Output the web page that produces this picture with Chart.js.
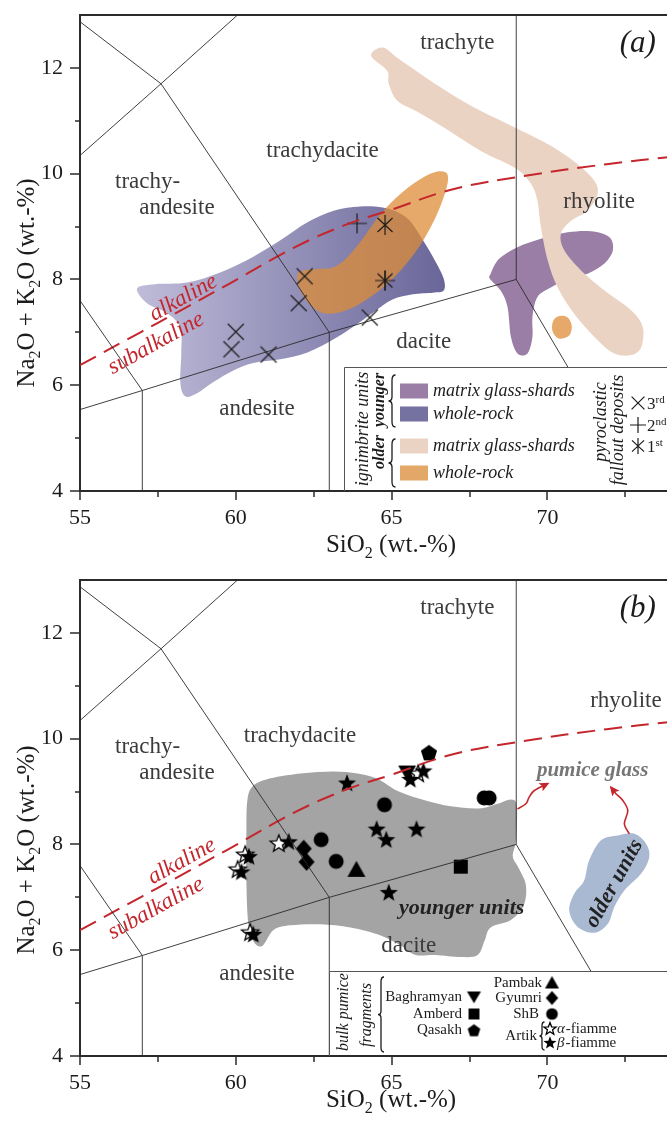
<!DOCTYPE html>
<html>
<head>
<meta charset="utf-8">
<script src="https://cdn.jsdelivr.net/npm/chart.js@4.4.1/dist/chart.umd.min.js"></script>
<style>
  html, body { margin: 0; padding: 0; background: #fff; overflow: hidden; width: 667px; height: 1125px; }
  #panelA { position: absolute; left: 0; top: 0; }
  #panelB { position: absolute; left: 0; top: 565px; }
</style>
</head>
<body>
<canvas id="panelA" width="677" height="565"></canvas>
<canvas id="panelB" width="677" height="560"></canvas>
<script>
// ---- axes ----
const xRange = [55, 73.87];
const yRange = [4, 13];
const xMajorTicks = [55, 60, 65, 70];
const xMinorTicks = [57.5, 62.5, 67.5, 72.5];
const yMajorTicks = [4, 6, 8, 10, 12];
const yMinorTicks = [5, 7, 9, 11];

// ---- TAS field boundaries (SiO2, Na2O+K2O) ----
const tasBoundaries = [
  [[52, 5], [57, 5.9], [63, 7], [69, 8]],
  [[57, 0], [57, 5.9]],
  [[63, 0], [63, 7]],
  [[57, 5.9], [53, 9.3]],
  [[63, 7], [57.6, 11.7], [52.5, 14]],
  [[53, 9.3], [57.6, 11.7], [61, 13.5]],
  [[69, 8], [69, 14]],
  [[69, 8], [77, 0]]
];
// alkaline / subalkaline divide
const alkalineDivide = [[55, 6.38], [57, 7.02], [58, 7.34], [59.7, 7.89], [61.9, 8.61], [63.6, 9.05],
  [64.9, 9.3], [67, 9.71], [69.3, 9.96], [71.9, 10.18], [74, 10.32]];

// ---- (a) ignimbrite compositional fields ----
const fieldYoungerWholeRock = [[56.83, 7.83], [57.41, 7.91], [58.44, 7.94], [59.5, 8.13], [60.56, 8.43],
  [61.43, 8.74], [62.3, 9.08], [63.14, 9.3], [64.0, 9.38], [64.87, 9.34], [65.51, 9.15], [65.93, 8.81],
  [66.35, 8.4], [66.67, 8.02], [66.67, 7.79], [66.32, 7.75], [65.68, 7.72], [65.03, 7.62], [64.42, 7.38],
  [63.78, 7.11], [63.14, 6.87], [62.3, 6.62], [61.43, 6.49], [60.56, 6.42], [59.92, 6.28], [59.28, 6.06],
  [58.76, 5.85], [58.38, 5.79], [58.22, 6.04], [58.25, 6.6], [58.22, 7.09], [57.8, 7.36], [57.15, 7.55]];
const fieldYoungerMatrix = [[68.18, 8.11], [68.45, 8.39], [69.04, 8.61], [69.79, 8.77], [70.65, 8.89],
  [71.4, 8.91], [71.99, 8.8], [72.1, 8.55], [71.83, 8.3], [71.29, 8.11], [70.65, 8.01], [70.11, 7.85],
  [69.68, 7.67], [69.52, 7.29], [69.52, 6.91], [69.36, 6.6], [69.04, 6.6], [68.83, 6.91], [68.72, 7.48],
  [68.5, 7.79], [68.16, 8.01]];
const fieldOlderMatrix = [[64.42, 12.32], [64.75, 12.38], [65.18, 12.19], [65.72, 11.97], [66.58, 11.63],
  [67.65, 11.25], [68.72, 10.94], [70.01, 10.56], [70.97, 10.18], [71.5, 9.87], [71.61, 9.62], [71.29, 9.3],
  [70.76, 9.11], [70.43, 8.86], [70.54, 8.55], [71.08, 8.17], [71.83, 7.79], [72.68, 7.42], [73.06, 7.1],
  [73.01, 6.72], [72.68, 6.57], [72.15, 6.6], [71.61, 6.85], [70.86, 7.35], [70.33, 7.85], [70.01, 8.36],
  [69.79, 8.99], [69.68, 9.49], [69.47, 9.81], [68.99, 10.1], [67.86, 10.43], [66.79, 10.83], [65.83, 11.17],
  [65.18, 11.38], [64.91, 11.7], [64.86, 11.94], [64.38, 12.19]];
const fieldOlderWholeRock = [[61.97, 8.08], [62.18, 8.17], [62.72, 8.2], [63.14, 8.23], [63.58, 8.42],
  [64.11, 8.8], [64.65, 9.24], [65.29, 9.62], [65.93, 9.9], [66.47, 10.04], [66.79, 9.99], [66.74, 9.68],
  [66.36, 9.11], [65.72, 8.48], [64.86, 7.92], [63.79, 7.48], [62.93, 7.35], [62.4, 7.51], [62.07, 7.79]];
const fieldOlderWholeRockSmall = [[70.17, 7.19], [70.33, 7.3], [70.63, 7.29], [70.78, 7.13], [70.7, 6.94],
  [70.38, 6.88], [70.17, 7.01]];

// ---- (a) pyroclastic fallout deposits ----
const fallout3rd = [[59.86, 6.68], [60.0, 7.01], [61.05, 6.58], [62.02, 7.55], [62.21, 8.06], [64.3, 7.28]];
const fallout2nd = [[63.89, 9.06], [64.79, 7.98]];
const fallout1st = [[64.79, 9.03], [64.79, 7.98]];

// ---- (b) fields ----
const fieldYoungerUnits = [[60.37, 8.83], [60.53, 9.09], [60.98, 9.23], [62.07, 9.34], [63.13, 9.38],
  [63.91, 9.34], [64.58, 9.23], [65.23, 9.0], [66.09, 8.83], [66.9, 8.72], [67.8, 8.68], [68.41, 8.77],
  [68.83, 8.85], [69.02, 8.72], [68.99, 8.08], [68.89, 7.77], [69.08, 7.55], [69.31, 7.23], [69.24, 6.85],
  [68.83, 6.57], [68.18, 6.43], [67.99, 6.19], [67.76, 5.91], [67.22, 5.87], [66.41, 5.91], [65.77, 5.91],
  [65.29, 6.09], [64.65, 6.28], [63.68, 6.43], [62.72, 6.49], [61.75, 6.47], [61.21, 6.38], [60.85, 6.08],
  [60.56, 6.17], [60.4, 6.51], [60.34, 7.32], [60.34, 8.26]];
const fieldOlderUnits = [[72.26, 8.17], [72.79, 8.2], [73.17, 8.01], [73.27, 7.76], [73.01, 7.45],
  [72.47, 7.13], [72.15, 6.82], [71.94, 6.5], [71.51, 6.33], [70.97, 6.44], [70.7, 6.75], [70.86, 7.07],
  [71.18, 7.32], [71.34, 7.7], [71.72, 8.08]];

// ---- (b) bulk pumice fragments ----
const baghramyan = [[65.5, 9.36]];
const amberd = [[67.22, 7.58]];
const qasakh = [[66.2, 9.74]];
const pambak = [[63.87, 7.52]];
const gyumri = [[62.18, 7.92], [62.27, 7.67]];
const shb = [[62.74, 8.09], [63.22, 7.68], [64.77, 8.75], [67.97, 8.88], [68.13, 8.88]];
const artikAlpha = [[60.3, 7.8], [60.06, 7.52], [61.38, 8.01], [60.46, 6.33], [65.85, 9.33]];
const artikBeta = [[60.42, 7.76], [60.18, 7.47], [61.7, 8.04], [60.56, 6.29], [63.57, 9.15], [64.52, 8.28],
  [64.83, 8.08], [65.8, 8.28], [64.91, 7.08], [65.6, 9.22], [66.02, 9.38]];

// arrows from the fields to the "pumice glass" note
const arrowYounger = [[69.04, 8.67], [69.31, 8.77], [69.41, 8.89], [69.58, 9.02], [70.01, 9.15]];
const arrowOlder = [[72.63, 8.2], [72.47, 8.39], [72.58, 8.64], [72.42, 8.83], [72.2, 8.96], [72.04, 9.08]];

const SERIF = '"Liberation Serif", "Times New Roman", serif';
const RED = '#c4262d';
const LABEL = '#3b3b3b';
const INK = '#1c1c1c';
const C_YOUNG_MATRIX = '#9a7ea5';
const C_YOUNG_WHOLE = '#7571a0';
const C_OLD_MATRIX = '#ebd3c3';
const C_OLD_WHOLE = 'rgba(222,140,55,0.75)';
const C_OLD_WHOLE_KEY = '#e3a867';
const C_GREY = '#a4a4a4';
const C_BLUE = '#a9b9d1';

// ---------- marker glyphs ----------
function makeGlyph(size, draw) {
  const c = document.createElement('canvas');
  c.width = size; c.height = size;
  const g = c.getContext('2d');
  g.translate(size / 2, size / 2);
  draw(g);
  return c;
}
function starPath(g, R, r) {
  g.beginPath();
  for (let i = 0; i < 10; i++) {
    const a = -Math.PI / 2 + i * Math.PI / 5;
    const rr = i % 2 ? r : R;
    g.lineTo(rr * Math.cos(a), rr * Math.sin(a));
  }
  g.closePath();
}
function polyPath(g, pts) {
  g.beginPath();
  pts.forEach((p, i) => i ? g.lineTo(p[0], p[1]) : g.moveTo(p[0], p[1]));
  g.closePath();
}
const glyphDraw = {
  cross3: (g, s) => { g.strokeStyle = INK; g.lineWidth = 1.2; g.beginPath();
    g.moveTo(-8 * s, -8 * s); g.lineTo(8 * s, 8 * s); g.moveTo(8 * s, -8 * s); g.lineTo(-8 * s, 8 * s); g.stroke(); },
  plus2: (g, s) => { g.strokeStyle = INK; g.lineWidth = 1.2; g.beginPath();
    g.moveTo(-10 * s, 0); g.lineTo(10 * s, 0); g.moveTo(0, -10 * s); g.lineTo(0, 10 * s); g.stroke(); },
  aster1: (g, s) => { g.strokeStyle = INK; g.lineWidth = 1.2; g.beginPath();
    g.moveTo(-7.5 * s, -7 * s); g.lineTo(7.5 * s, 7 * s); g.moveTo(7.5 * s, -7 * s); g.lineTo(-7.5 * s, 7 * s);
    g.moveTo(0, -10 * s); g.lineTo(0, 10 * s); g.stroke(); },
  beta: (g, s) => { starPath(g, 9.5 * s, 4 * s); g.fillStyle = '#000'; g.fill(); },
  alpha: (g, s) => { starPath(g, 9 * s, 3.8 * s); g.fillStyle = '#fff'; g.fill();
    g.strokeStyle = '#000'; g.lineWidth = 1.3; g.stroke(); },
  circle: (g, s) => { g.beginPath(); g.arc(0, 0, 7.5 * s, 0, Math.PI * 2); g.fillStyle = '#000'; g.fill(); },
  square: (g, s) => { g.fillStyle = '#000'; g.fillRect(-7 * s, -7 * s, 14 * s, 14 * s); },
  diamond: (g, s) => { polyPath(g, [[0, -9 * s], [8 * s, 0], [0, 9 * s], [-8 * s, 0]]); g.fillStyle = '#000'; g.fill(); },
  triUp: (g, s) => { polyPath(g, [[0, -9 * s], [9 * s, 7 * s], [-9 * s, 7 * s]]); g.fillStyle = '#000'; g.fill(); },
  triDown: (g, s) => { polyPath(g, [[0, 8 * s], [9 * s, -7 * s], [-9 * s, -7 * s]]); g.fillStyle = '#000'; g.fill(); },
  pentagon: (g, s) => {
    const pts = [];
    for (let i = 0; i < 5; i++) {
      const a = -Math.PI / 2 + i * 2 * Math.PI / 5;
      pts.push([8.5 * s * Math.cos(a), 8.5 * s * Math.sin(a) + s]);
    }
    polyPath(g, pts); g.fillStyle = '#000'; g.fill();
  }
};
function glyph(kind, s) { return makeGlyph(Math.ceil(24 * s), g => glyphDraw[kind](g, s)); }
const glyphs = {};
Object.keys(glyphDraw).forEach(k => { glyphs[k] = glyph(k, 1); });

// ---------- drawing helpers ----------
function px(chart, p) {
  return [chart.scales.x.getPixelForValue(p[0]), chart.scales.y.getPixelForValue(p[1])];
}
function smoothClosed(ctx, pts) {
  const n = pts.length;
  ctx.beginPath();
  ctx.moveTo(pts[0][0], pts[0][1]);
  for (let i = 0; i < n; i++) {
    const p0 = pts[(i - 1 + n) % n], p1 = pts[i], p2 = pts[(i + 1) % n], p3 = pts[(i + 2) % n];
    ctx.bezierCurveTo(p1[0] + (p2[0] - p0[0]) / 6, p1[1] + (p2[1] - p0[1]) / 6,
      p2[0] - (p3[0] - p1[0]) / 6, p2[1] - (p3[1] - p1[1]) / 6, p2[0], p2[1]);
  }
  ctx.closePath();
}
function smoothOpen(ctx, pts) {
  const n = pts.length;
  ctx.beginPath();
  ctx.moveTo(pts[0][0], pts[0][1]);
  for (let i = 0; i < n - 1; i++) {
    const p0 = pts[Math.max(i - 1, 0)], p1 = pts[i], p2 = pts[i + 1], p3 = pts[Math.min(i + 2, n - 1)];
    ctx.bezierCurveTo(p1[0] + (p2[0] - p0[0]) / 6, p1[1] + (p2[1] - p0[1]) / 6,
      p2[0] - (p3[0] - p1[0]) / 6, p2[1] - (p3[1] - p1[1]) / 6, p2[0], p2[1]);
  }
}
function text(ctx, t, x, y, o) {
  ctx.save();
  ctx.translate(x, y);
  if (o.rot) ctx.rotate(o.rot * Math.PI / 180);
  ctx.font = o.font;
  ctx.fillStyle = o.color || INK;
  ctx.textAlign = o.align || 'center';
  ctx.textBaseline = o.baseline || 'middle';
  ctx.fillText(t, 0, 0);
  ctx.restore();
}
// runs: [string, 0 normal | 1 subscript | 2 superscript]
function richText(ctx, runs, x, y, size, style, align, rot) {
  ctx.save();
  ctx.translate(x, y);
  if (rot) ctx.rotate(rot * Math.PI / 180);
  ctx.textBaseline = 'alphabetic';
  ctx.fillStyle = INK;
  const fontFor = m => `${style} ${m ? Math.round(size * 0.62) : size}px ${SERIF}`;
  let w = 0;
  runs.forEach(r => { ctx.font = fontFor(r[1]); w += ctx.measureText(r[0]).width; });
  let cx = align === 'left' ? 0 : -w / 2;
  runs.forEach(r => {
    ctx.font = fontFor(r[1]);
    const dy = r[1] === 1 ? size * 0.22 : r[1] === 2 ? -size * 0.38 : 0;
    ctx.fillText(r[0], cx, dy);
    cx += ctx.measureText(r[0]).width;
  });
  ctx.restore();
}
function brace(ctx, x, y1, y2, w) {
  const ym = (y1 + y2) / 2;
  ctx.save();
  ctx.strokeStyle = INK; ctx.lineWidth = 1.3;
  ctx.beginPath();
  ctx.moveTo(x + w, y1);
  ctx.quadraticCurveTo(x, y1, x, y1 + w * 1.5);
  ctx.lineTo(x, ym - w * 1.2);
  ctx.quadraticCurveTo(x, ym, x - w, ym);
  ctx.quadraticCurveTo(x, ym, x, ym + w * 1.2);
  ctx.lineTo(x, y2 - w * 1.5);
  ctx.quadraticCurveTo(x, y2, x + w, y2);
  ctx.stroke();
  ctx.restore();
}
function wavyArrow(chart, ctx, pts) {
  const p = pts.map(q => px(chart, q));
  ctx.save();
  ctx.strokeStyle = RED; ctx.fillStyle = RED; ctx.lineWidth = 1.6;
  smoothOpen(ctx, p);
  ctx.stroke();
  const a = p[p.length - 1], b = p[p.length - 2];
  const ang = Math.atan2(a[1] - b[1], a[0] - b[0]);
  ctx.translate(a[0], a[1]); ctx.rotate(ang);
  ctx.beginPath(); ctx.moveTo(2, 0); ctx.lineTo(-8, -4.5); ctx.lineTo(-6, 0); ctx.lineTo(-8, 4.5); ctx.closePath();
  ctx.fill();
  ctx.restore();
}

const xy = arr => arr.map(p => ({ x: p[0], y: p[1] }));

function baseDatasets() {
  const ds = tasBoundaries.map(line => ({
    data: xy(line), showLine: true, borderColor: '#2a2a2a', borderWidth: 0.9,
    pointRadius: 0, fill: false, tension: 0
  }));
  ds.push({
    data: xy(alkalineDivide), showLine: true, borderColor: RED, borderWidth: 2,
    borderDash: [18, 9], pointRadius: 0, fill: false, tension: 0.4
  });
  return ds;
}
function markerSet(arr, img) {
  return { data: xy(arr), pointStyle: img, pointRadius: 8, showLine: false };
}

function makePanel(canvas, spec) {
  const H = canvas.height;
  const plotBottom = 491;
  const overlay = {
    id: 'overlay',
    beforeDatasetsDraw(chart) {
      const ctx = chart.ctx, a = chart.chartArea;
      ctx.save();
      ctx.beginPath(); ctx.rect(a.left, a.top, a.right - a.left, a.bottom - a.top); ctx.clip();
      spec.fields.forEach(f => {
        const pts = f.pts.map(p => px(chart, p));
        smoothClosed(ctx, pts);
        if (f.gradient) {
          const xs = pts.map(p => p[0]);
          const gr = ctx.createLinearGradient(Math.min(...xs), 0, Math.max(...xs), 0);
          gr.addColorStop(0, f.gradient[0]); gr.addColorStop(1, f.gradient[1]);
          ctx.fillStyle = gr;
        } else ctx.fillStyle = f.color;
        ctx.fill();
      });
      ctx.restore();
    },
    afterDatasetsDraw(chart) {
      const ctx = chart.ctx;
      spec.labels.forEach(l => {
        const p = px(chart, [l.x, l.y]);
        text(ctx, l.t, p[0], p[1], l);
      });
      (spec.arrows || []).forEach(a => wavyArrow(chart, ctx, a));
      spec.legend(chart, ctx);
    },
    afterDraw(chart) {
      const ctx = chart.ctx, a = chart.chartArea;
      const xs = chart.scales.x, ys = chart.scales.y;
      ctx.save();
      ctx.strokeStyle = '#2b2b2b';
      ctx.lineWidth = 2;
      ctx.beginPath(); ctx.moveTo(a.left - 1, a.top); ctx.lineTo(chart.width, a.top); ctx.stroke();
      ctx.lineWidth = 1.5;
      ctx.beginPath();
      yMajorTicks.forEach(v => { const y = Math.round(ys.getPixelForValue(v)); ctx.moveTo(a.left - 10, y); ctx.lineTo(a.left, y); });
      yMinorTicks.forEach(v => { const y = Math.round(ys.getPixelForValue(v)); ctx.moveTo(a.left - 5, y); ctx.lineTo(a.left, y); });
      xMajorTicks.forEach(v => { const x = Math.round(xs.getPixelForValue(v)); ctx.moveTo(x, a.bottom); ctx.lineTo(x, a.bottom + 9); });
      xMinorTicks.forEach(v => { const x = Math.round(xs.getPixelForValue(v)); ctx.moveTo(x, a.bottom); ctx.lineTo(x, a.bottom + 6); });
      ctx.stroke();
      ctx.restore();
      richText(ctx, [['Na', 0], ['2', 1], ['O + K', 0], ['2', 1], ['O (wt.-%)', 0]], 34, spec.yTitleY, 25, '', 'center', -90);
      richText(ctx, [['SiO', 0], ['2', 1], [' (wt.-%)', 0]], 391, spec.xTitleY, 25, '', 'center', 0);
    }
  };
  return new Chart(canvas, {
    type: 'scatter',
    data: { datasets: baseDatasets().concat(spec.markers) },
    options: {
      responsive: false, animation: false, events: [],
      layout: { padding: { top: 15, right: 0, left: 0, bottom: 0 } },
      plugins: { legend: { display: false }, tooltip: { enabled: false } },
      scales: {
        x: {
          type: 'linear', min: xRange[0], max: xRange[1],
          grid: { display: false }, border: { display: true, color: '#2b2b2b', width: 2 },
          ticks: { font: { family: SERIF, size: 22 }, color: INK, padding: 6, maxRotation: 0 },
          afterBuildTicks: s => { s.ticks = xMajorTicks.map(v => ({ value: v })); },
          afterFit: s => { s.height = H - plotBottom; s.paddingLeft = 0; s.paddingRight = 0; }
        },
        y: {
          type: 'linear', min: yRange[0], max: yRange[1],
          grid: { display: false }, border: { display: true, color: '#2b2b2b', width: 2 },
          ticks: { font: { family: SERIF, size: 22 }, color: INK, padding: 9 },
          afterBuildTicks: s => { s.ticks = yMajorTicks.map(v => ({ value: v })); },
          afterFit: s => { s.width = 80; s.paddingTop = 0; s.paddingBottom = 0; }
        }
      }
    },
    plugins: [overlay]
  });
}

const reg = { font: `23px ${SERIF}`, color: LABEL };
const redIt = { font: `italic 23px ${SERIF}`, color: RED, rot: -29 };

// legend of panel (a)
function legendA(chart, ctx) {
  const a = chart.chartArea;
  const left = Math.round(chart.scales.x.getPixelForValue(63.47)) + 0.5;
  const top = Math.round(chart.scales.y.getPixelForValue(6.35)) + 0.5;
  ctx.save();
  ctx.fillStyle = '#fff';
  ctx.fillRect(left, top, chart.width - left, a.bottom - top - 1);
  ctx.strokeStyle = '#555'; ctx.lineWidth = 1;
  ctx.beginPath(); ctx.moveTo(left, a.bottom); ctx.lineTo(left, top); ctx.lineTo(chart.width, top); ctx.stroke();
  ctx.restore();
  text(ctx, 'ignimbrite units', 363, 429, { font: `italic 18px ${SERIF}`, rot: -90 });
  text(ctx, 'younger', 380, 400, { font: `italic bold 16px ${SERIF}`, rot: -90 });
  text(ctx, 'older', 380, 452, { font: `italic bold 16px ${SERIF}`, rot: -90 });
  brace(ctx, 392, 375, 427, 3.5);
  brace(ctx, 392, 439, 487, 3.5);
  const keys = [
    [C_YOUNG_MATRIX, 'matrix glass-shards', 391],
    [C_YOUNG_WHOLE, 'whole-rock', 414],
    [C_OLD_MATRIX, 'matrix glass-shards', 446],
    [C_OLD_WHOLE_KEY, 'whole-rock', 473]
  ];
  keys.forEach(k => {
    ctx.fillStyle = k[0];
    ctx.fillRect(400, k[2] - 7.5, 28, 15);
    text(ctx, k[1], 433, k[2], { font: `italic 18px ${SERIF}`, align: 'left' });
  });
  text(ctx, 'pyroclastic', 601, 422, { font: `italic 18px ${SERIF}`, rot: -90 });
  text(ctx, 'fallout deposits', 618, 430, { font: `italic 18px ${SERIF}`, rot: -90 });
  const small = { cross3: glyph('cross3', 0.8), plus2: glyph('plus2', 0.8), aster1: glyph('aster1', 0.8) };
  [['cross3', '3', 'rd', 403], ['plus2', '2', 'nd', 425], ['aster1', '1', 'st', 446]].forEach(r => {
    const img = small[r[0]];
    ctx.drawImage(img, 638 - img.width / 2, r[3] - img.height / 2);
    richText(ctx, [[r[1], 0], [r[2], 2]], 647, r[3] + 6, 17, '', 'left', 0);
  });
}

// legend of panel (b)
function legendB(chart, ctx) {
  const a = chart.chartArea;
  const left = Math.round(chart.scales.x.getPixelForValue(63.0)) + 0.5;
  const top = Math.round(chart.scales.y.getPixelForValue(5.61)) + 0.5;
  ctx.save();
  ctx.fillStyle = '#fff';
  ctx.fillRect(left, top, chart.width - left, a.bottom - top - 1);
  ctx.strokeStyle = '#555'; ctx.lineWidth = 1;
  ctx.beginPath(); ctx.moveTo(left, a.bottom); ctx.lineTo(left, top); ctx.lineTo(chart.width, top); ctx.stroke();
  ctx.restore();
  text(ctx, 'bulk pumice', 344, 447, { font: `italic 16px ${SERIF}`, rot: -90 });
  text(ctx, 'fragments', 367, 450, { font: `italic 16px ${SERIF}`, rot: -90 });
  brace(ctx, 381, 412, 487, 3);
  const f = `15px ${SERIF}`;
  const items = [
    ['Baghramyan', 462, 432, 'triDown', 474],
    ['Amberd', 462, 449, 'square', 474],
    ['Qasakh', 462, 465, 'pentagon', 474],
    ['Pambak', 542, 418, 'triUp', 552],
    ['Gyumri', 542, 433, 'diamond', 552],
    ['ShB', 539, 449, 'circle', 552]
  ];
  items.forEach(it => {
    text(ctx, it[0], it[1], it[2], { font: f, align: 'right' });
    const img = glyph(it[3], 0.78);
    ctx.drawImage(img, it[4] - img.width / 2, it[2] - img.height / 2);
  });
  text(ctx, 'Artik', 537, 471, { font: f, align: 'right' });
  brace(ctx, 542, 457, 485, 2.5);
  [['alpha', 'α', 464], ['beta', 'β', 478]].forEach(r => {
    const img = glyph(r[0], 0.72);
    ctx.drawImage(img, 550 - img.width / 2, r[2] - img.height / 2);
    text(ctx, r[1], 557, r[2], { font: `italic 15px ${SERIF}`, align: 'left' });
    ctx.font = `italic 15px ${SERIF}`;
    const w = ctx.measureText(r[1]).width;
    text(ctx, '-fiamme', 557 + w + 1, r[2], { font: f, align: 'left' });
  });
}

makePanel(document.getElementById('panelA'), {
  yTitleY: 283, xTitleY: 552,
  fields: [
    { pts: fieldYoungerWholeRock, gradient: ['#bfbcd9', '#6a6699'] },
    { pts: fieldYoungerMatrix, color: C_YOUNG_MATRIX },
    { pts: fieldOlderMatrix, color: C_OLD_MATRIX },
    { pts: fieldOlderWholeRock, color: C_OLD_WHOLE },
    { pts: fieldOlderWholeRockSmall, color: C_OLD_WHOLE }
  ],
  markers: [
    markerSet(fallout3rd, glyphs.cross3),
    markerSet(fallout2nd, glyphs.plus2),
    markerSet(fallout1st, glyphs.aster1)
  ],
  labels: [
    Object.assign({ t: 'trachyte', x: 67.11, y: 12.48 }, reg),
    Object.assign({ t: 'trachydacite', x: 62.78, y: 10.43 }, reg),
    Object.assign({ t: 'trachy-', x: 57.17, y: 9.84 }, reg),
    Object.assign({ t: 'andesite', x: 58.11, y: 9.35 }, reg),
    Object.assign({ t: 'rhyolite', x: 71.66, y: 9.46 }, reg),
    Object.assign({ t: 'andesite', x: 60.68, y: 5.56 }, reg),
    Object.assign({ t: 'dacite', x: 66.03, y: 6.82 }, reg),
    Object.assign({ t: 'alkaline', x: 58.32, y: 7.65 }, redIt),
    Object.assign({ t: 'subalkaline', x: 57.44, y: 6.79 }, redIt),
    { t: '(a)', x: 72.9, y: 12.45, font: `italic 31px ${SERIF}`, color: INK }
  ],
  legend: legendA
});

makePanel(document.getElementById('panelB'), {
  yTitleY: 285, xTitleY: 542,
  fields: [
    { pts: fieldYoungerUnits, color: C_GREY },
    { pts: fieldOlderUnits, color: C_BLUE }
  ],
  markers: [
    markerSet(gyumri, glyphs.diamond),
    markerSet(shb, glyphs.circle),
    markerSet(pambak, glyphs.triUp),
    markerSet(amberd, glyphs.square),
    markerSet(qasakh, glyphs.pentagon),
    markerSet(baghramyan, glyphs.triDown),
    markerSet(artikBeta, glyphs.beta),
    markerSet(artikAlpha, glyphs.alpha)
  ],
  labels: [
    Object.assign({ t: 'trachyte', x: 67.11, y: 12.48 }, reg),
    Object.assign({ t: 'trachydacite', x: 62.06, y: 10.06 }, reg),
    Object.assign({ t: 'trachy-', x: 57.17, y: 9.84 }, reg),
    Object.assign({ t: 'andesite', x: 58.11, y: 9.36 }, reg),
    Object.assign({ t: 'rhyolite', x: 72.52, y: 10.72 }, reg),
    Object.assign({ t: 'andesite', x: 60.68, y: 5.56 }, reg),
    Object.assign({ t: 'dacite', x: 65.55, y: 6.09 }, reg),
    Object.assign({ t: 'alkaline', x: 58.27, y: 7.68 }, redIt),
    Object.assign({ t: 'subalkaline', x: 57.44, y: 6.79 }, redIt),
    { t: '(b)', x: 72.9, y: 12.45, font: `italic 31px ${SERIF}`, color: INK },
    { t: 'pumice glass', x: 71.45, y: 9.4, font: `italic bold 21px ${SERIF}`, color: '#767676' },
    { t: 'younger units', x: 67.25, y: 6.79, font: `italic bold 22px ${SERIF}`, color: '#222' },
    { t: 'older units', x: 72.15, y: 7.26, font: `italic bold 22px ${SERIF}`, color: '#222', rot: -61 }
  ],
  arrows: [arrowYounger, arrowOlder],
  legend: legendB
});
</script>
</body>
</html>
